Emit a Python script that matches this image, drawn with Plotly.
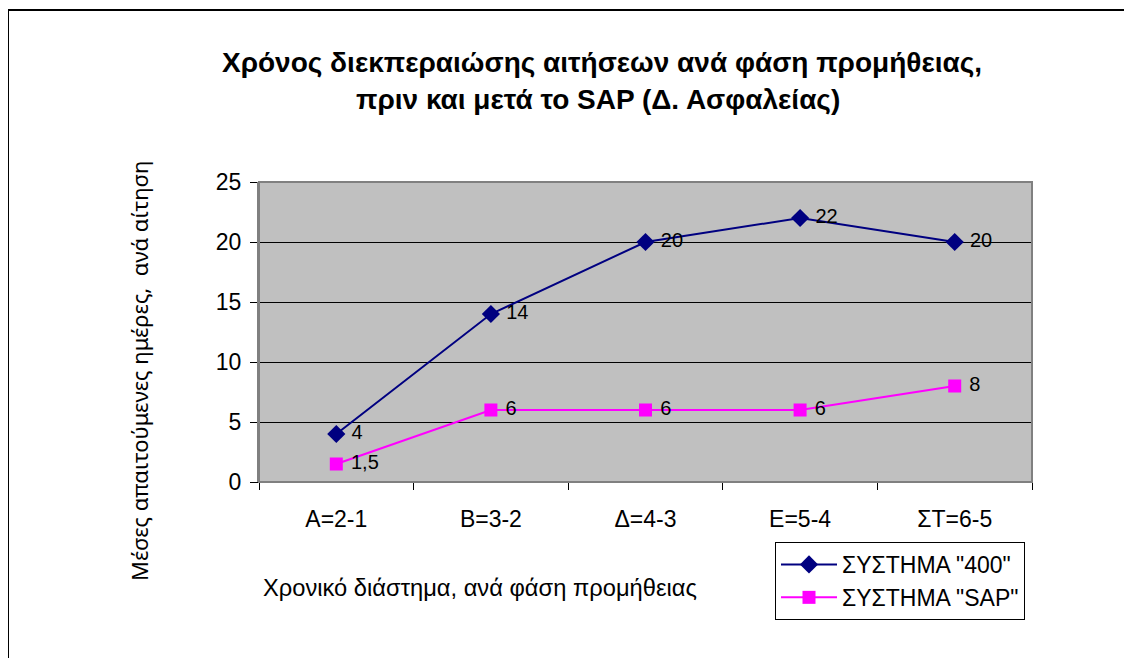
import plotly.graph_objects as go

categories = ["A=2-1", "B=3-2", "Δ=4-3", "E=5-4", "ΣΤ=6-5"]
sys400 = [4, 14, 20, 22, 20]
sysSAP = [1.5, 6, 6, 6, 8]
labels400 = ["4", "14", "20", "22", "20"]
labelsSAP = ["1,5", "6", "6", "6", "8"]
y_ticks = [0, 5, 10, 15, 20, 25]

OFF = 8  # page body margin
W, H = 1132 - OFF, 658 - OFF
# plot area in screenshot pixels
L, R, T, B = 259, 1032, 182, 482


def px(x):
    return (x - L) / (R - L)


def py(y):
    return (B - y) / (B - T)


FONT = "Liberation Sans, Arial, sans-serif"

fig = go.Figure()
fig.add_trace(go.Scatter(
    x=categories, y=sys400, mode="lines+markers+text", name='ΣΥΣΤΗΜΑ "400"',
    line=dict(color="#000080", width=2),
    marker=dict(symbol="diamond", size=14, color="#000080"),
    text=labels400, textposition="middle right", texttemplate=" %{text}",
    textfont=dict(family=FONT, size=20, color="black"),
    legendgroup="a",
))
fig.add_trace(go.Scatter(
    x=categories, y=sysSAP, mode="lines+markers+text", name='ΣΥΣΤΗΜΑ "SAP"',
    line=dict(color="#FF00FF", width=2),
    marker=dict(symbol="square", size=13, color="#FF00FF"),
    text=labelsSAP, textposition="middle right", texttemplate=" %{text}",
    textfont=dict(family=FONT, size=20, color="black"),
    legendgroup="b",
))

fig.update_layout(
    width=W, height=H,
    margin=dict(l=L - OFF, r=W - (R - OFF), t=T - OFF, b=H - (B - OFF)),
    paper_bgcolor="white",
    plot_bgcolor="#C0C0C0",
    font=dict(family=FONT, size=22, color="black"),
    showlegend=True,
    legend=dict(
        x=px(775), y=py(542), xanchor="left", yanchor="top",
        bordercolor="black", borderwidth=1, bgcolor="white",
        font=dict(family=FONT, size=23, color="black"),
        tracegroupgap=0, itemwidth=56,
    ),
    xaxis=dict(
        type="category", range=[-0.5, 4.5],
        showline=True, linecolor="black", linewidth=1,
        ticks="outside", ticklen=7, tickcolor="black", tickson="boundaries",
        showgrid=False, zeroline=False,
        tickfont=dict(family=FONT, size=23),
        ticklabelstandoff=16,
    ),
    yaxis=dict(
        range=[0, 25], tickvals=y_ticks,
        showline=True, linecolor="#808080", linewidth=2,
        ticks="outside", ticklen=7, tickcolor="black",
        showgrid=True, gridcolor="black", gridwidth=1, zeroline=False,
        tickfont=dict(family=FONT, size=23),
        ticklabelstandoff=4,
    ),
    shapes=[
        dict(type="rect", xref="paper", yref="paper", x0=0, x1=1, y0=0, y1=1,
             line=dict(color="#808080", width=2), layer="above"),
        dict(type="rect", xref="paper", yref="paper",
             x0=px(8), x1=px(1128), y0=py(700), y1=py(10),
             line=dict(color="black", width=2)),
    ],
    annotations=[
        dict(text="<b>Χρόνος διεκπεραιώσης αιτήσεων ανά φάση προμήθειας,</b>",
             xref="paper", yref="paper", x=px(602), y=py(62),
             xanchor="center", yanchor="middle", showarrow=False,
             font=dict(family=FONT, size=28)),
        dict(text="<b>πριν και μετά το SAP (Δ. Ασφαλείας)</b>",
             xref="paper", yref="paper", x=px(598), y=py(100),
             xanchor="center", yanchor="middle", showarrow=False,
             font=dict(family=FONT, size=28)),
        dict(text="Χρονικό διάστημα, ανά φάση προμήθειας",
             xref="paper", yref="paper", x=px(261), y=py(588),
             xanchor="left", yanchor="middle", showarrow=False,
             font=dict(family=FONT, size=23.7)),
        dict(text="Μέσες απαιτούμενες ημέρες,  ανά αίτηση",
             xref="paper", yref="paper", x=px(139), y=py(371),
             xanchor="center", yanchor="middle", showarrow=False,
             textangle=-90,
             font=dict(family="Noto Sans", size=22)),
    ],
)

fig.write_html("out.html")
